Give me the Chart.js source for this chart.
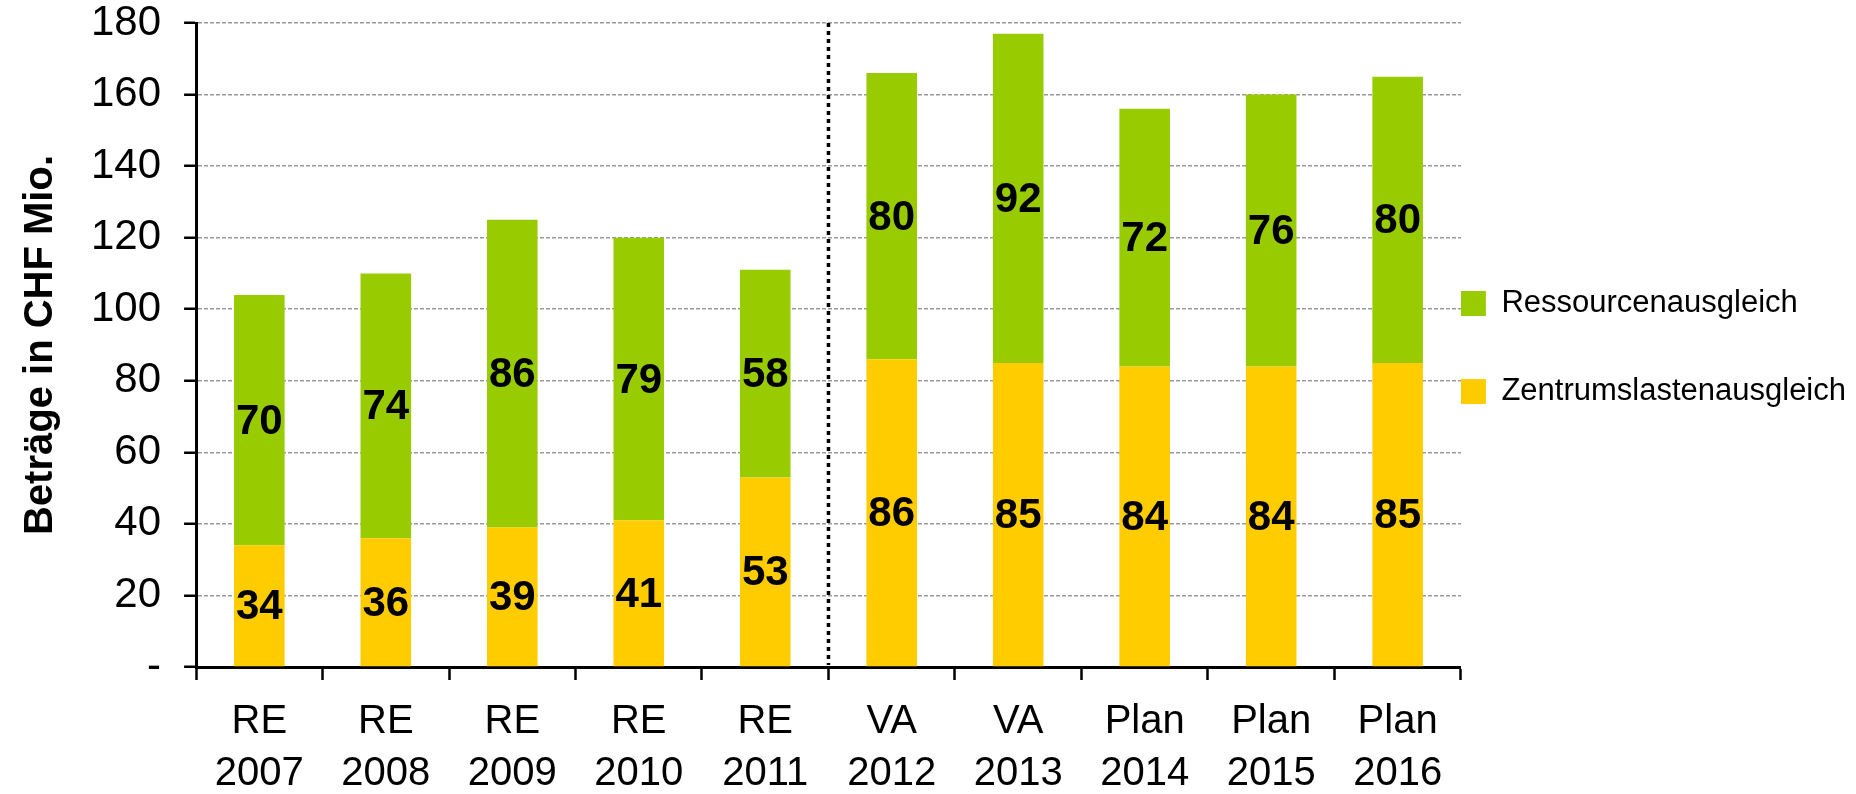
<!DOCTYPE html>
<html>
<head>
<meta charset="utf-8">
<script src="https://cdn.jsdelivr.net/npm/chart.js@4"></script>
<style>
  body { margin: 0; background: #fff; }
  #wrap { width: 1856px; height: 794px; position: relative; }
</style>
</head>
<body>
<div id="wrap"><canvas id="myChart"></canvas></div>
<script>
const categories = [
  ['RE', '2007'], ['RE', '2008'], ['RE', '2009'], ['RE', '2010'], ['RE', '2011'],
  ['VA', '2012'], ['VA', '2013'], ['Plan', '2014'], ['Plan', '2015'], ['Plan', '2016']
]
const zentrum = [34, 36, 39, 41, 53, 86, 85, 84, 84, 85]
const ressourcen = [70, 74, 86, 79, 58, 80, 92, 72, 76, 80]
const yTicks = [0, 20, 40, 60, 80, 100, 120, 140, 160, 180]
const splitAfter = 4   // dotted line between RE 2011 and VA 2012

const green = '#99cc00'
const yellow = '#ffcc00'

// values written in the middle of each bar segment
const barLabels = {
  id: 'barLabels',
  afterDatasetsDraw(chart) {
    const ctx = chart.ctx
    ctx.save()
    ctx.font = 'bold 42px "Liberation Sans", Arial, sans-serif'
    ctx.fillStyle = '#000'
    ctx.textAlign = 'center'
    ctx.textBaseline = 'middle'
    chart.data.datasets.forEach((ds, i) => {
      chart.getDatasetMeta(i).data.forEach((bar, j) => {
        ctx.fillText(ds.data[j], bar.x, (bar.y + bar.base) / 2 + 2)
      })
    })
    ctx.restore()
  }
}

// dotted separator between actuals and plan
const separator = {
  id: 'separator',
  afterDatasetsDraw(chart) {
    const x = chart.scales.x
    const y = chart.scales.y
    const px = (x.getPixelForValue(splitAfter) + x.getPixelForValue(splitAfter + 1)) / 2
    const ctx = chart.ctx
    ctx.save()
    ctx.strokeStyle = '#000'
    ctx.lineWidth = 3.5
    ctx.setLineDash([4, 4])
    ctx.beginPath()
    ctx.moveTo(px, y.getPixelForValue(180))
    ctx.lineTo(px, y.getPixelForValue(0) - 2)
    ctx.stroke()
    ctx.restore()
  }
}

const data = {
  labels: categories,
  datasets: [{
    label: 'Zentrumslastenausgleich',
    data: zentrum,
    backgroundColor: yellow,
    barPercentage: 0.4,
    categoryPercentage: 1
  }, {
    label: 'Ressourcenausgleich',
    data: ressourcen,
    backgroundColor: green,
    barPercentage: 0.4,
    categoryPercentage: 1
  }]
}

let myChart = new Chart(document.getElementById('myChart'), {
  type: 'bar',
  data: data,
  plugins: [barLabels, separator],
  options: {
    responsive: true,
    maintainAspectRatio: false,
    animation: false,
    layout: { padding: { top: -17, right: 0, bottom: -22, left: 0 } },
    plugins: {
      tooltip: { enabled: false },
      legend: {
        position: 'right',
        align: 'start',
        reverse: true,
        // empty title only used to push the items down
        title: { display: true, text: '', padding: { top: 293, bottom: 0 }, font: { size: 10, lineHeight: 1.2 } },
        labels: {
          boxWidth: 25,
          boxHeight: 25,
          padding: 0,
          color: '#000',
          font: { family: '"Liberation Sans", Arial, sans-serif', size: 31, lineHeight: 2.84 },
          // wrap text in an array so the line height sets the gap between items
          generateLabels: chart => Chart.defaults.plugins.legend.labels.generateLabels(chart)
            .map(l => Object.assign(l, { text: [l.text] }))
        }
      }
    },
    scales: {
      x: {
        stacked: true,
        border: { color: '#000', width: 3 },
        grid: {
          drawOnChartArea: false,
          tickColor: '#000',
          tickWidth: 2.5,
          tickLength: 13
        },
        ticks: {
          color: '#000',
          padding: 16,
          maxRotation: 0,
          font: { family: '"Liberation Sans", Arial, sans-serif', size: 40, lineHeight: 1.3 }
        }
      },
      y: {
        stacked: true,
        min: 0,
        max: 180,
        border: { color: '#000', width: 3, dash: [4, 2] },
        grid: {
          color: '#999999',
          lineWidth: 1.5,
          tickColor: '#000',
          tickWidth: 2.5,
          tickLength: 12,
          tickBorderDash: []
        },
        afterBuildTicks: axis => { axis.ticks = yTicks.map(v => ({ value: v })) },
        afterFit: axis => { axis.paddingTop = 23 },
        ticks: {
          color: '#000',
          padding: 23,
          font: { family: '"Liberation Sans", Arial, sans-serif', size: 42 },
          callback: v => v === 0 ? '-' : v
        },
        title: {
          display: true,
          text: 'Beträge in CHF Mio.',
          color: '#000',
          padding: { top: 17, bottom: 3 },
          font: { family: '"Liberation Sans", Arial, sans-serif', size: 40, weight: 'bold', lineHeight: 1.2 }
        }
      }
    }
  }
})
</script>
</body>
</html>
